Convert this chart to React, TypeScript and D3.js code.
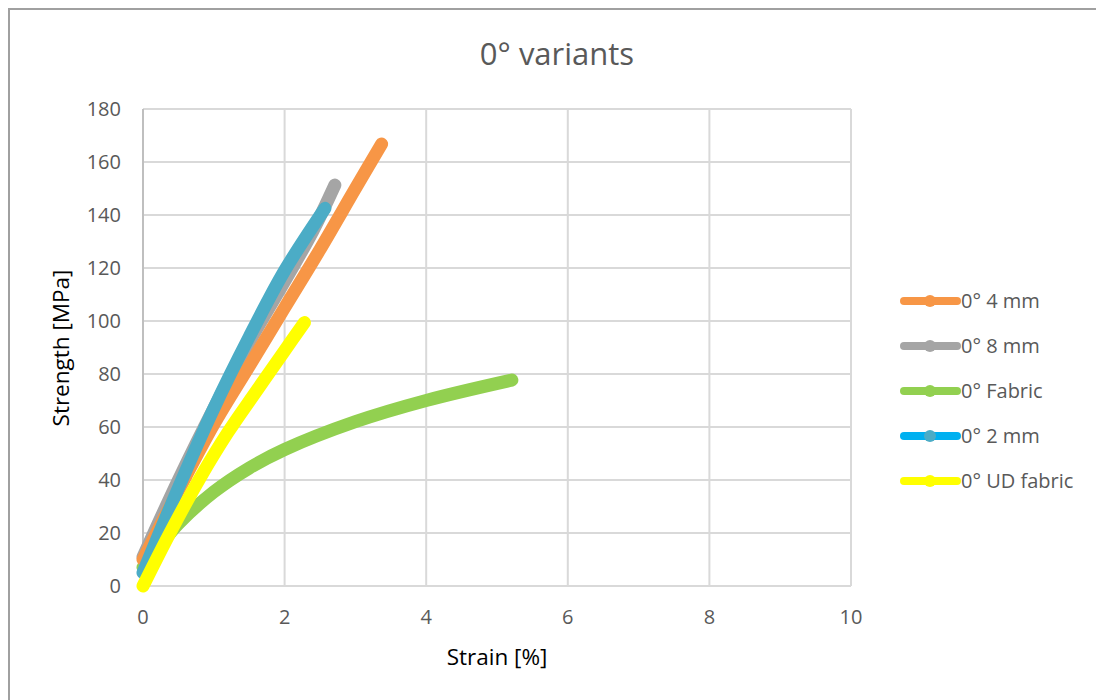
import React from "react";
import * as d3 from "d3";

const seriesNames = ["0° 4 mm", "0° 8 mm", "0° Fabric", "0° 2 mm", "0° UD fabric"];
const lineColors = ["#F79646", "#A5A5A5", "#92D050", "#00B0F0", "#FFFF00"];
const markerColors = ["#F79646", "#A5A5A5", "#92D050", "#4BACC6", "#FFFF00"];
const plotColors = ["#F79646", "#A5A5A5", "#92D050", "#4BACC6", "#FFFF00"];

const strain4mm = [0, 0.5, 1.0, 1.5, 2.0, 2.5, 3.0, 3.37];
const stress4mm = [10, 36, 61, 83, 105, 127, 150, 166.8];

const strain8mm = [0, 0.5, 1.0, 1.5, 2.0, 2.4, 2.71];
const stress8mm = [11, 40, 67, 92, 115, 134, 151.3];

const strainFabric = [0, 0.25, 0.5, 1.0, 1.5, 2.0, 3.0, 4.0, 5.21];
const stressFabric = [7, 15.5, 23.5, 35.5, 44.5, 51.5, 62, 70, 77.7];

const strain2mm = [0, 0.5, 1.0, 1.5, 2.0, 2.57];
const stress2mm = [5, 37, 67, 94, 119, 142.5];

const strainUD = [0, 0.4, 0.8, 1.2, 1.6, 2.0, 2.28];
const stressUD = [0, 21, 40.5, 58, 73.5, 88.8, 99.4];

const xTicks = [0, 2, 4, 6, 8, 10];
const yTicks = [0, 20, 40, 60, 80, 100, 120, 140, 160, 180];

const strains = [strain4mm, strain8mm, strainFabric, strain2mm, strainUD];
const stresses = [stress4mm, stress8mm, stressFabric, stress2mm, stressUD];
const drawOrder = [2, 1, 0, 3, 4];

export default function App() {
  const W = 1096, H = 700;
  const x = d3.scaleLinear().domain([0, 10]).range([143, 851]);
  const y = d3.scaleLinear().domain([0, 180]).range([586, 109]);
  const line = d3
    .line<[number, number]>()
    .x((d) => x(d[0]))
    .y((d) => y(d[1]))
    .curve(d3.curveCatmullRom.alpha(0.5));
  const font = "'Open Sans', sans-serif";
  const legendY0 = 301, legendStep = 45;

  return (
    <svg
      width={W}
      height={H}
      style={{ position: "absolute", left: 0, top: 0, background: "#fff" }}
      fontFamily={font}
    >
      <rect x={0} y={0} width={W} height={H} fill="#fff" />
      <rect x={9} y={9} width={W + 20} height={H + 20} fill="none" stroke="#A0A0A0" strokeWidth={2} />
      <text x={557} y={65} textAnchor="middle" fontSize={31} fill="#595959">
        0° variants
      </text>
      {yTicks.map((t) => (
        <line key={"gy" + t} x1={x(0)} x2={x(10)} y1={y(t)} y2={y(t)} stroke="#D9D9D9" strokeWidth={2} />
      ))}
      {xTicks.map((t) => (
        <line key={"gx" + t} x1={x(t)} x2={x(t)} y1={y(0)} y2={y(180)} stroke="#D9D9D9" strokeWidth={2} />
      ))}
      <line x1={x(0)} x2={x(0)} y1={y(0)} y2={y(180)} stroke="#BFBFBF" strokeWidth={2} />
      <line x1={x(0)} x2={x(10)} y1={y(0)} y2={y(0)} stroke="#D9D9D9" strokeWidth={2} />
      {yTicks.map((t) => (
        <text key={"ty" + t} x={121} y={y(t)} dy="0.35em" textAnchor="end" fontSize={20} fill="#595959">
          {t}
        </text>
      ))}
      {xTicks.map((t) => (
        <text key={"tx" + t} x={x(t)} y={624} textAnchor="middle" fontSize={20} fill="#595959">
          {t}
        </text>
      ))}
      <text x={497} y={665} textAnchor="middle" fontSize={22.5} fill="#000">
        Strain [%]
      </text>
      <text
        transform={`translate(69,${348}) rotate(-90)`}
        textAnchor="middle"
        fontSize={22.5}
        fill="#000"
      >
        Strength [MPa]
      </text>
      {drawOrder.map((i) => {
        const pts: [number, number][] = strains[i].map((s, k) => [s, stresses[i][k]]);
        return (
          <path
            key={"s" + i}
            d={line(pts) || ""}
            fill="none"
            stroke={plotColors[i]}
            strokeWidth={13}
            strokeLinecap="round"
            strokeLinejoin="round"
          />
        );
      })}
      {seriesNames.map((n, i) => {
        const ly = legendY0 + i * legendStep;
        return (
          <g key={"l" + i}>
            <line x1={904} x2={957} y1={ly} y2={ly} stroke={lineColors[i]} strokeWidth={8} strokeLinecap="round" />
            <circle cx={930} cy={ly} r={6} fill={markerColors[i]} />
            <text x={961} y={ly} dy="0.35em" fontSize={20} fill="#595959">
              {n}
            </text>
          </g>
        );
      })}
    </svg>
  );
}
